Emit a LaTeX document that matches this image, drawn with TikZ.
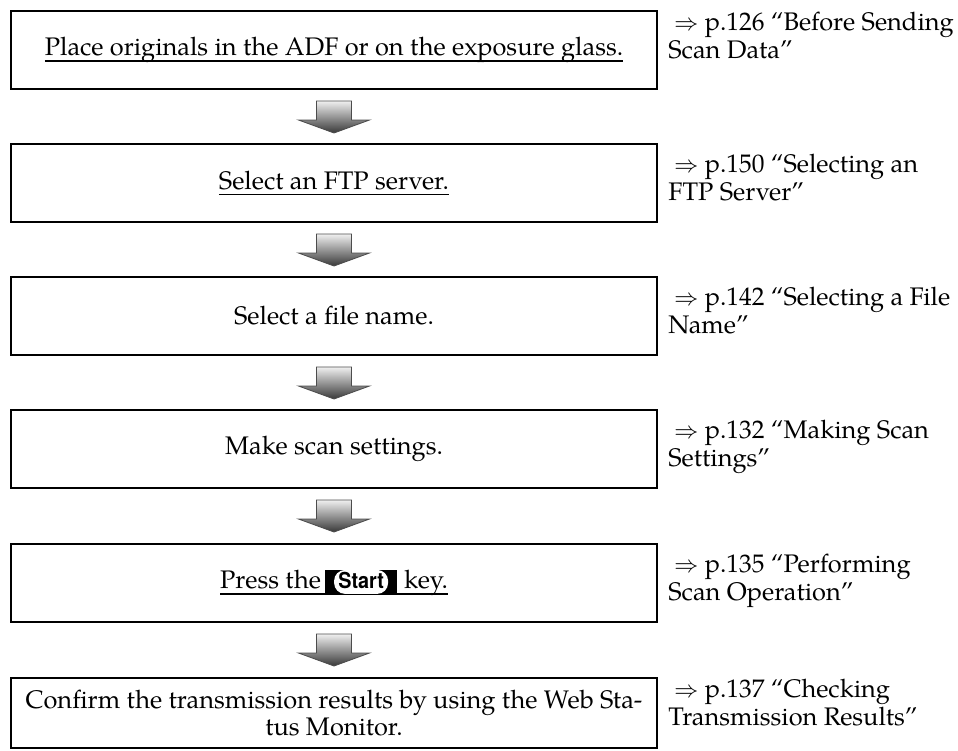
\documentclass[tikz,border=0pt]{standalone}
\usepackage{fontspec}
\setmainfont{TeX Gyre Pagella}
\newfontfamily\keyfont{TeX Gyre Heros}[FakeStretch=0.9]
\usetikzlibrary{calc}
\newcommand{\ulin}[1]{\setbox0\hbox{#1}\rlap{\rule[-3pt]{\wd0}{0.8pt}}\box0}
\newcommand{\startkey}{\tikz[x=1pt,y=1pt,baseline=0pt,line width=0.4pt]{%
  \fill[black,draw=none] (0,-2.5) rectangle (36,9.5);
  \fill[white,draw=none,rounded corners=5.5pt] (4.5,-2.5) rectangle (31.5,9.5);
  \node[anchor=base,inner sep=0pt,outer sep=0pt,draw=none,fill=none,
    minimum width=0pt,minimum height=0pt,
    font=\fontsize{11}{12}\keyfont\bfseries] at (18,0) {Start};}}
\begin{document}
\begin{tikzpicture}[x=0.5pt,y=-0.5pt,
  box/.style={draw=black, line width=1pt, minimum width=323pt, inner sep=0pt,
    align=center, font=\fontsize{12.7}{11.5}\selectfont},
  note/.style={anchor=north west, inner sep=0pt, align=left,
    font=\fontsize{12.7}{11.5}\selectfont},
  flowarrow/.style={draw=black!70, line width=0.4pt, top color=black!6,
    bottom color=black!78}]
\useasboundingbox (0,0) rectangle (958,750);
\node[box, minimum height=39pt] (b1) at (334,50)
  {\ulin{Place originals in the ADF or on the exposure glass.}};
\node[box, minimum height=39pt] (b2) at (334,183) {\ulin{Select an FTP server.}};
\node[box, minimum height=39pt] (b3) at (334,316) {Select a file name.};
\node[box, minimum height=39pt] (b4) at (334,449) {Make scan settings.};
\node[box, minimum height=39pt] (b5) at (334,583)
  {\ulin{Press the\hspace{2pt}\startkey\hspace{3.5pt}key.}};
\node[box, minimum height=35pt] (b6) at (334,713)
  {Confirm the transmission results by using the Web Sta-\\tus Monitor.};
\node[note] (n1) at (668,12) {\hspace*{3pt}$\Rightarrow$ p.126 “Before Sending\\Scan Data”};
\node[note] (n2) at (668,154) {\hspace*{3pt}$\Rightarrow$ p.150 “Selecting an\\FTP Server”};
\node[note] (n3) at (668,287) {\hspace*{3pt}$\Rightarrow$ p.142 “Selecting a File\\Name”};
\node[note] (n4) at (668,420) {\hspace*{3pt}$\Rightarrow$ p.132 “Making Scan\\Settings”};
\node[note] (n5) at (668,554) {\hspace*{3pt}$\Rightarrow$ p.135 “Performing\\Scan Operation”};
\node[note] (n6) at (668,679) {\hspace*{3pt}$\Rightarrow$ p.137 “Checking\\Transmission Results”};
\foreach \a in {b1,b2,b3,b4,b5}{
  \shade[flowarrow] ($(\a.south)+(-17.5,11)$) -- ++(35,0) -- ++(0,19) -- ++(18,0)
    -- ++(-35.5,13) -- ++(-35.5,-13) -- ++(18,0) -- cycle;
}
\end{tikzpicture}
\end{document}
